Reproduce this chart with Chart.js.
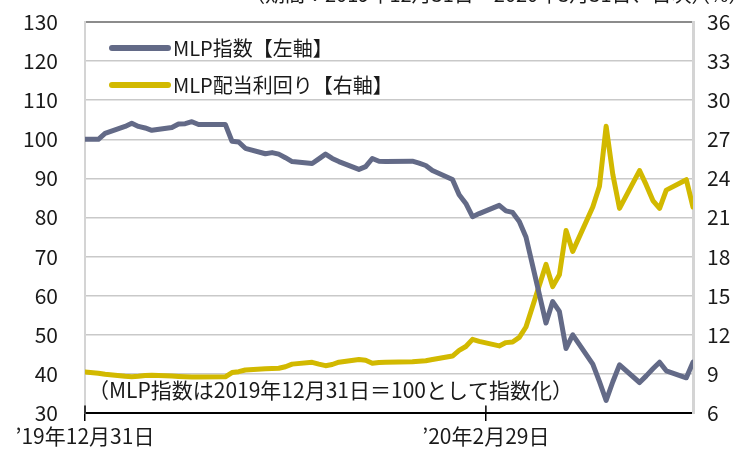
<!DOCTYPE html>
<html>
<head>
<meta charset="utf-8">
<script src="https://cdn.jsdelivr.net/npm/chart.js@4.4.1/dist/chart.umd.min.js"></script>
<style>
  html, body { margin: 0; padding: 0; background: #fff; }
  #wrap { width: 737px; height: 449px; }
</style>
</head>
<body>
<div id="wrap"><canvas id="mlpChart" width="737" height="449"></canvas></div>
<script>
// trading days, Dec 31 2019 - Mar 31 2020
const tradeDates = [
  "2019-12-31",
  "2020-01-02", "2020-01-03", "2020-01-06", "2020-01-07", "2020-01-08", "2020-01-09", "2020-01-10",
  "2020-01-13", "2020-01-14", "2020-01-15", "2020-01-16", "2020-01-17", "2020-01-21", "2020-01-22",
  "2020-01-23", "2020-01-24", "2020-01-27", "2020-01-28", "2020-01-29", "2020-01-30", "2020-01-31",
  "2020-02-03", "2020-02-04", "2020-02-05", "2020-02-06", "2020-02-07", "2020-02-10", "2020-02-11",
  "2020-02-12", "2020-02-13", "2020-02-14", "2020-02-18", "2020-02-19", "2020-02-20", "2020-02-21",
  "2020-02-24", "2020-02-25", "2020-02-26", "2020-02-27", "2020-02-28",
  "2020-03-02", "2020-03-03", "2020-03-04", "2020-03-05", "2020-03-06", "2020-03-09", "2020-03-10",
  "2020-03-11", "2020-03-12", "2020-03-13", "2020-03-16", "2020-03-17", "2020-03-18", "2020-03-19",
  "2020-03-20", "2020-03-23", "2020-03-24", "2020-03-25", "2020-03-26", "2020-03-27", "2020-03-30",
  "2020-03-31"
];

// MLP index (left axis, 2019/12/31 = 100)
const mlpIndex = [
  100,
  100, 101.5, 103.3, 104.1, 103.3, 102.9, 102.3,
  103, 103.9, 104, 104.5, 103.8, 103.8, 99.5,
  99.3, 97.7, 96.3, 96.6, 96.2, 95.3, 94.3,
  93.8, 95, 96.2, 95.1, 94.3, 92.3, 93,
  95.1, 94.4, 94.3, 94.4, 93.9, 93.3, 92,
  89.7, 85.8, 83.6, 80.2, 81,
  83.1, 81.7, 81.3, 79, 75, 53, 58.5,
  56, 46.5, 50, 42.5, 38, 33.2, 38,
  42.3, 37.8, 39.5, 41.3, 43, 40.8, 39,
  43
];

// MLP dividend yield % (right axis)
const mlpYield = [
  9.15,
  9.05, 8.97, 8.82, 8.79, 8.82, 8.87, 8.9,
  8.83, 8.8, 8.78, 8.77, 8.76, 8.78, 9.1,
  9.17, 9.3, 9.4, 9.42, 9.43, 9.55, 9.75,
  9.89, 9.75, 9.63, 9.72, 9.9, 10.1, 10.05,
  9.82, 9.88, 9.9, 9.94, 9.97, 10.01, 10.1,
  10.37, 10.8, 11.1, 11.65, 11.5,
  11.15, 11.4, 11.45, 11.8, 12.6, 17.4, 15.7,
  16.6, 20, 18.4, 21.8, 23.4, 28, 24.3,
  21.7, 24.6, 23.5, 22.3, 21.7, 23.1, 23.9,
  21.8
];

const seriesNames = ["MLP指数【左軸】", "MLP配当利回り【右軸】"];
const seriesColors = ["#636a87", "#d2b900"];
const xTickDays = [0, 60];
const xTickLabels = ["’19年12月31日", "’20年2月29日"];
const noteText = "（MLP指数は2019年12月31日＝100として指数化）";
const headText = "（期間：2019年12月31日～2020年3月31日、日次）";
const unitText = "（%）";

const FONT = "'Noto Sans CJK JP', 'Noto Sans', sans-serif";

// days since 2019-12-31
function dayOffset(s) {
  const p = s.split("-").map(Number);
  return (Date.UTC(p[0], p[1] - 1, p[2]) - Date.UTC(2019, 11, 31)) / 86400000;
}
const xDays = tradeDates.map(dayOffset);

// legend, note and cut-off header drawn inside the chart
const overlayText = {
  id: "overlayText",
  afterDraw(chart) {
    const ctx = chart.ctx;
    const area = chart.chartArea;
    ctx.save();
    ctx.fillStyle = "#1a1a1a";
    ctx.textBaseline = "middle";
    ctx.font = "20px " + FONT;
    const legendY = [48, 85];
    seriesNames.forEach((name, i) => {
      ctx.strokeStyle = seriesColors[i];
      ctx.lineWidth = 6;
      ctx.lineCap = "round";
      ctx.beginPath();
      ctx.moveTo(112, legendY[i]);
      ctx.lineTo(168, legendY[i]);
      ctx.stroke();
      ctx.fillText(name, 173, legendY[i]);
    });
    ctx.font = "21px " + FONT;
    ctx.fillText(noteText, area.left + 3, 390);

    // tick marks crossing the x axis
    const xs = chart.scales.x;
    ctx.strokeStyle = "#000";
    ctx.lineWidth = 1.5;
    xTickDays.forEach(d => {
      const px = xs.getPixelForValue(d);
      ctx.beginPath();
      ctx.moveTo(px, area.bottom - 7);
      ctx.lineTo(px, area.bottom);
      ctx.stroke();
    });

    ctx.font = "20px " + FONT;
    ctx.textBaseline = "alphabetic";
    ctx.fillText(headText, 245, 2);
    ctx.fillText(unitText, 690, 2);
    ctx.restore();
  }
};

// fixed axis width, no extra label padding above/below
function fixVertical(width) {
  return scale => {
    scale.width = width;
    scale.paddingTop = 0;
    scale.paddingBottom = 0;
  };
}

const ctx = document.getElementById("mlpChart").getContext("2d");

const mlpChart = new Chart(ctx, {
  type: "line",
  data: {
    datasets: [
      {
        label: seriesNames[0],
        data: xDays.map((d, i) => ({ x: d, y: mlpIndex[i] })),
        borderColor: seriesColors[0],
        borderWidth: 5,
        yAxisID: "y"
      },
      {
        label: seriesNames[1],
        data: xDays.map((d, i) => ({ x: d, y: mlpYield[i] })),
        borderColor: seriesColors[1],
        borderWidth: 5,
        yAxisID: "y1"
      }
    ]
  },
  options: {
    responsive: false,
    animation: false,
    devicePixelRatio: 1,
    layout: { padding: { top: 22, left: 0, right: 0, bottom: 0 } },
    elements: {
      point: { radius: 0 },
      line: { tension: 0, borderJoinStyle: "round", borderCapStyle: "round" }
    },
    plugins: {
      legend: { display: false },
      tooltip: { enabled: false }
    },
    scales: {
      x: {
        type: "linear",
        min: 0,
        max: 91,
        afterBuildTicks: scale => { scale.ticks = xTickDays.map(v => ({ value: v })); },
        afterFit: scale => { scale.height = 36; },
        ticks: {
          autoSkip: false,
          maxRotation: 0,
          padding: 2,
          color: "#1a1a1a",
          font: { family: FONT, size: 21 },
          callback: v => xTickLabels[xTickDays.indexOf(v)]
        },
        grid: { drawOnChartArea: false, drawTicks: true, tickLength: 8, color: "#000", lineWidth: 1.5 },
        border: { display: true, color: "#000", width: 2 }
      },
      y: {
        position: "left",
        min: 30,
        max: 130,
        afterFit: fixVertical(85),
        ticks: {
          stepSize: 10,
          padding: 27,
          color: "#1a1a1a",
          font: { family: FONT, size: 21 }
        },
        grid: {
          drawTicks: false,
          color: c => (c.tick && c.tick.value === 130) ? "#8c8c8c" : "#c9c9c9",
          lineWidth: c => (c.tick && c.tick.value === 130) ? 2 : 1.5
        },
        border: { display: true, color: "#d4d4d4", width: 2 }
      },
      y1: {
        position: "right",
        min: 6,
        max: 36,
        afterFit: fixVertical(44),
        ticks: {
          stepSize: 3,
          padding: 14,
          color: "#1a1a1a",
          font: { family: FONT, size: 21 }
        },
        grid: { drawOnChartArea: false, drawTicks: false },
        border: { display: true, color: "#d4d4d4", width: 3 }
      }
    }
  },
  plugins: [overlayText]
});
</script>
</body>
</html>
